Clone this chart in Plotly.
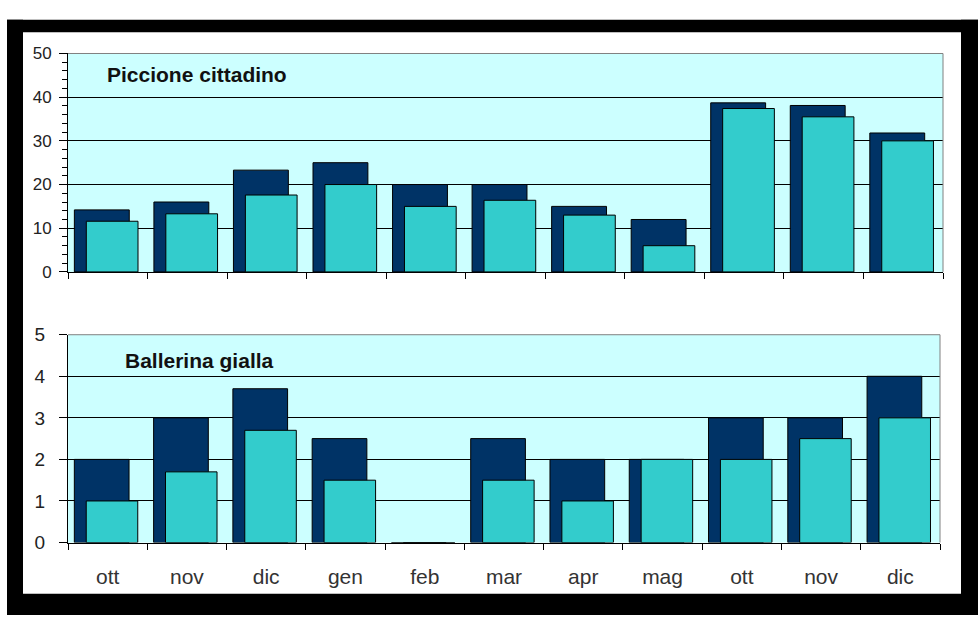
import plotly.graph_objects as go

# ---- data ----
months = ["ott", "nov", "dic", "gen", "feb", "mar", "apr", "mag", "ott", "nov", "dic"]
piccione_back = [14.2, 16, 23.3, 25, 20, 20, 15, 12, 38.7, 38.1, 31.8]
piccione_front = [11.6, 13.3, 17.6, 20, 15, 16.4, 13, 6, 37.4, 35.5, 30]
ballerina_back = [2, 3, 3.7, 2.5, 0, 2.5, 2, 2, 3, 3, 4]
ballerina_front = [1, 1.7, 2.7, 1.5, 0, 1.5, 1, 2, 2, 2.5, 3]
titles = ["Piccione cittadino", "Ballerina gialla"]

W, H = 978, 626


def px(x):
    return x / W


def py(y):
    return 1 - y / H


DARK = "#003366"
LIGHT = "#33CCCC"
BG = "#CCFFFF"
FONT = "Liberation Sans, Arial, sans-serif"

pos = list(range(len(months)))
bounds = [i - 0.5 for i in range(len(months) + 1)]

fig = go.Figure()
for back, front, xa, ya in [
    (piccione_back, piccione_front, "x", "y"),
    (ballerina_back, ballerina_front, "x2", "y2"),
]:
    fig.add_trace(go.Bar(x=pos, y=back, xaxis=xa, yaxis=ya, width=0.69, offset=-0.42,
                         marker=dict(color=DARK, line=dict(color="#000000", width=1)),
                         hoverinfo="y"))
    fig.add_trace(go.Bar(x=pos, y=front, xaxis=xa, yaxis=ya, width=0.65, offset=-0.27,
                         marker=dict(color=LIGHT, line=dict(color="#000000", width=1)),
                         hoverinfo="y"))

xcommon = dict(range=[-0.5, len(months) - 0.5], showgrid=False, zeroline=False,
               showline=True, linecolor="#000000", linewidth=1,
               tickvals=pos, ticktext=months, ticks="",
               minor=dict(tickvals=bounds, ticks="outside", ticklen=6,
                          tickcolor="#000000", tickwidth=1, showgrid=False),
               tickfont=dict(family=FONT, size=21, color="#333333"), fixedrange=True)

fig.update_layout(
    width=W, height=H,
    margin=dict(l=0, r=0, t=0, b=0),
    paper_bgcolor="#FFFFFF", plot_bgcolor=BG,
    barmode="overlay", showlegend=False,
    font=dict(family=FONT, color="#111111"),
    xaxis=dict(domain=[px(68), px(943)], anchor="y", showticklabels=False, **xcommon),
    xaxis2=dict(domain=[px(68), px(940)], anchor="y2", showticklabels=True,
                ticklabelstandoff=15, **xcommon),
    yaxis=dict(domain=[py(271), py(45)], anchor="x", range=[0, 50], tick0=0, dtick=10,
               ticks="outside", ticklen=8, tickcolor="#000000", showgrid=True,
               gridcolor="#000000", gridwidth=1, zeroline=False, showline=True,
               linecolor="#000000", linewidth=1,
               minor=dict(dtick=2, tick0=0, ticks="outside", ticklen=5,
                          tickcolor="#000000", showgrid=False),
               tickfont=dict(family=FONT, size=17, color="#222222"),
               ticklabelstandoff=4, fixedrange=True),
    yaxis2=dict(domain=[py(551), py(336)], anchor="x2", range=[0, 5], tick0=0, dtick=1,
                ticks="outside", ticklen=8, tickcolor="#000000", showgrid=True,
                gridcolor="#000000", gridwidth=1, zeroline=False, showline=True,
                linecolor="#000000", linewidth=1,
                tickfont=dict(family=FONT, size=19, color="#222222"),
                ticklabelstandoff=10, fixedrange=True),
)

# plot-area top/right frame in grey
for xd, yd in [("x domain", "y domain"), ("x2 domain", "y2 domain")]:
    fig.add_shape(type="line", xref=xd, yref=yd, x0=0, x1=1, y0=1, y1=1,
                  line=dict(color="#808080", width=1), layer="above")
    fig.add_shape(type="line", xref=xd, yref=yd, x0=1, x1=1, y0=0, y1=1,
                  line=dict(color="#808080", width=1), layer="above")

# black picture frame
for x0, x1, y0, y1 in [
    (px(7), 1, py(23), py(10)),
    (px(7), 1, 0, py(604)),
    (px(7), px(23), 0, py(10)),
    (px(961), 1, 0, py(10)),
]:
    fig.add_shape(type="rect", xref="paper", yref="paper", x0=x0, x1=x1, y0=y0, y1=y1,
                  fillcolor="#000000", line=dict(width=0), layer="above")

# panel titles
for t, xx, yy in [(titles[0], 105, 67), (titles[1], 123, 363)]:
    fig.add_annotation(text="<b>" + t + "</b>", xref="paper", yref="paper",
                       x=px(xx), y=py(yy), xanchor="left", yanchor="middle",
                       showarrow=False, font=dict(family=FONT, size=21, color="#111111"))

fig.write_html("out.html")
